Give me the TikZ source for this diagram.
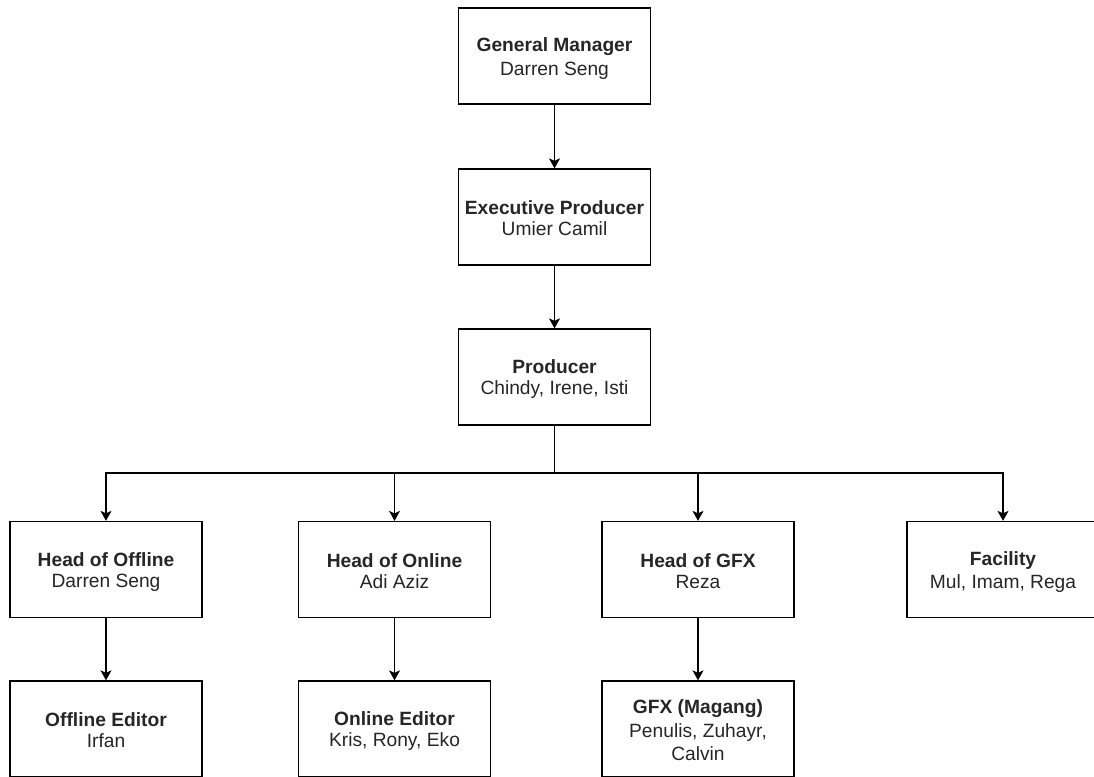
\documentclass[tikz,border=0pt]{standalone}
\usepackage{fontspec}
\setmainfont{Liberation Sans}
\usetikzlibrary{arrows.meta}
\newcommand{\boxstrut}{\rule[-2.3pt]{0pt}{21pt}}
\begin{document}
\begin{tikzpicture}[x=1pt,y=1pt,
  box/.style={draw=black, line width=1.3pt, fill=white, minimum width=192pt, minimum height=96pt,
    inner sep=0pt, align=center, font=\fontsize{19.2}{21}\selectfont, text=black!85},
  link/.style={draw=black, line width=1.3pt},
  arr/.style={link, -{Stealth[length=10pt,width=11pt,inset=2.5pt]}}]
\useasboundingbox (0,0) rectangle (1094,-776);
\node[box] (gm) at (554.5,-56) {\boxstrut\textbf{General Manager}\\\boxstrut Darren Seng};
\node[box] (ep) at (554.5,-217) {\boxstrut\textbf{Executive Producer}\\\boxstrut Umier Camil};
\node[box] (prod) at (554.5,-377) {\boxstrut\textbf{Producer}\\\boxstrut Chindy, Irene, Isti};
\node[box] (hoff) at (106,-569.5) {\boxstrut\textbf{Head of Offline}\\\boxstrut Darren Seng};
\node[box] (hon) at (394.5,-569.5) {\boxstrut\textbf{Head of Online}\\\boxstrut Adi Aziz};
\node[box] (hgfx) at (698,-569.5) {\boxstrut\textbf{Head of GFX}\\\boxstrut Reza};
\node[box] (fac) at (1003,-569.5) {\boxstrut\textbf{Facility}\\\boxstrut Mul, Imam, Rega};
\node[box] (offed) at (106,-729) {\boxstrut\textbf{Offline Editor}\\\boxstrut Irfan};
\node[box] (oned) at (394.5,-729) {\boxstrut\textbf{Online Editor}\\\boxstrut Kris, Rony, Eko};
\node[box] (gfx) at (698,-729) {\boxstrut\textbf{GFX (Magang)}\\\boxstrut Penulis, Zuhayr,\\\boxstrut Calvin};
\coordinate (bus) at (554.5,-473);
\draw[arr] (gm) -- (ep);
\draw[arr] (ep) -- (prod);
\draw[link] (prod) -- (bus);
\draw[arr] (bus) -| (hoff);
\draw[arr] (bus) -| (hon);
\draw[arr] (bus) -| (hgfx);
\draw[arr] (bus) -| (fac);
\draw[arr] (hoff) -- (offed);
\draw[arr] (hon) -- (oned);
\draw[arr] (hgfx) -- (gfx);
\end{tikzpicture}
\end{document}
